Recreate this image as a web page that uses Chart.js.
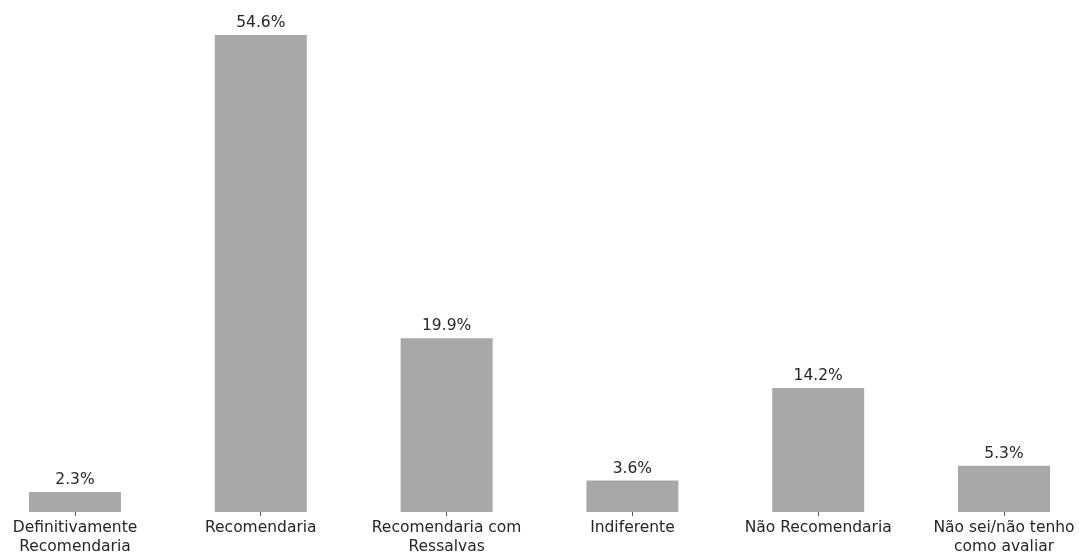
<!DOCTYPE html>
<html>
<head>
<meta charset="utf-8">
<script src="https://cdn.jsdelivr.net/npm/chart.js@4.4.1/dist/chart.umd.min.js"></script>
<style>
  html, body { margin: 0; padding: 0; background: #fff; }
  #wrap { width: 1079px; height: 554px; }
</style>
</head>
<body>
<div id="wrap"><canvas id="chart"></canvas></div>
<script>
var categories = [
    ["Definitivamente", "Recomendaria"],
    "Recomendaria",
    ["Recomendaria com", "Ressalvas"],
    "Indiferente",
    "Não Recomendaria",
    ["Não sei/não tenho", "como avaliar"]
];
var percents = [2.3, 54.6, 19.9, 3.6, 14.2, 5.3];

var FONT = "'DejaVu Sans', sans-serif";

// percentage text above each bar
var valueLabels = {
    id: "valueLabels",
    afterDatasetsDraw: function(chart) {
        var ctx = chart.ctx;
        var meta = chart.getDatasetMeta(0);
        ctx.save();
        ctx.font = "15.5px " + FONT;
        ctx.fillStyle = "#262626";
        ctx.textAlign = "center";
        ctx.textBaseline = "alphabetic";
        meta.data.forEach(function(bar, i) {
            ctx.fillText(percents[i].toFixed(1) + "%", bar.x, bar.y - 8);
        });
        ctx.restore();
    }
};

new Chart(document.getElementById("chart"), {
    type: "bar",
    data: {
        labels: categories,
        datasets: [{
            data: percents,
            backgroundColor: "#a8a8a8",
            borderWidth: 0,
            categoryPercentage: 1,
            barPercentage: 0.495,
            clip: false
        }]
    },
    options: {
        responsive: true,
        maintainAspectRatio: false,
        animation: false,
        layout: { padding: { left: 75, right: 75, top: 0, bottom: 0 } },
        plugins: {
            legend: { display: false },
            tooltip: { enabled: false }
        },
        scales: {
            x: {
                offset: false,
                border: { display: false },
                grid: {
                    display: true,
                    offset: false,
                    drawOnChartArea: false,
                    drawTicks: true,
                    tickLength: 4,
                    color: "#555"
                },
                ticks: {
                    color: "#262626",
                    font: { family: FONT, size: 15.5 },
                    padding: 3,
                    maxRotation: 0,
                    autoSkip: false
                },
                afterFit: function(scale) { scale.height = 42; }
            },
            y: {
                display: false,
                min: 0,
                max: 58.6
            }
        }
    },
    plugins: [valueLabels]
});
</script>
</body>
</html>
